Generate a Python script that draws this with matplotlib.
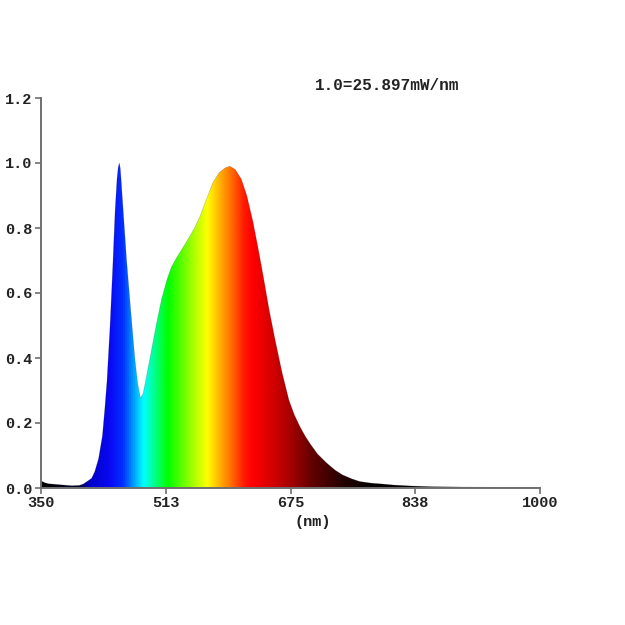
import numpy as np
import matplotlib
matplotlib.use("Agg")
import matplotlib.pyplot as plt
from matplotlib.colors import LinearSegmentedColormap

# ---------------------------------------------------------
# spectrum data (relative, 1.0 = 25.897 mW/nm)
# ---------------------------------------------------------
wavelength = [350, 355, 360, 370, 380, 390, 400, 405, 410, 416, 420, 425,
              430, 433, 436, 440, 443.5, 446.5, 449, 450.5, 452, 453.2, 454,
              457, 461.5, 466.8, 472.4, 476, 479.5, 483, 488, 494, 500, 507,
              514, 520, 527, 535, 544, 550, 557, 565, 574, 582, 590, 596,
              603, 611, 618, 626, 633, 640, 647, 655, 664, 673, 680, 687,
              694, 700, 710, 722, 733, 743, 755, 765, 780, 791, 810, 834,
              860, 900, 950, 1000]
intensity = [0.022, 0.016, 0.013, 0.011, 0.009, 0.007, 0.008, 0.012, 0.02,
             0.03, 0.05, 0.09, 0.16, 0.24, 0.33, 0.50, 0.68, 0.85, 0.95,
             0.985, 1.0, 0.985, 0.96, 0.855, 0.70, 0.548, 0.394, 0.32,
             0.277, 0.29, 0.35, 0.425, 0.50, 0.58, 0.64, 0.68, 0.71, 0.74,
             0.775, 0.80, 0.835, 0.885, 0.94, 0.97, 0.985, 0.99, 0.98, 0.95,
             0.90, 0.82, 0.735, 0.645, 0.55, 0.455, 0.355, 0.27, 0.225,
             0.19, 0.16, 0.138, 0.105, 0.077, 0.055, 0.04, 0.028, 0.02,
             0.015, 0.013, 0.009, 0.006, 0.004, 0.003, 0.002, 0.002]

xticks = [350, 512.5, 675, 837.5, 1000]
xticklabels = ["350", "513", "675", "838", "1000"]
yticks = [0.0, 0.2, 0.4, 0.6, 0.8, 1.0, 1.2]
yticklabels = ["0.0", "0.2", "0.4", "0.6", "0.8", "1.0", "1.2"]

# wavelength -> colour for the fill
color_nodes = [
    (350, (0, 0, 0)), (398, (0, 0, 40)), (412, (0, 0, 200)),
    (440, (10, 10, 245)), (456, (0, 50, 255)), (470, (0, 160, 255)),
    (483, (0, 255, 255)), (497, (0, 255, 140)), (515, (0, 255, 0)),
    (540, (130, 255, 0)), (566, (255, 255, 0)), (580, (255, 190, 0)),
    (595, (255, 120, 0)), (615, (255, 25, 0)), (625, (255, 0, 0)),
    (650, (215, 0, 0)), (680, (155, 0, 0)), (705, (95, 0, 0)),
    (740, (40, 0, 0)), (780, (5, 0, 0)), (1000, (0, 0, 0)),
]
cmap = LinearSegmentedColormap.from_list(
    "spec", [((w - 350) / 650.0, tuple(c / 255.0 for c in rgb)) for w, rgb in color_nodes])

FONT = "Liberation Mono"
AX_GRAY = "#707070"

fig = plt.figure(figsize=(6.25, 6.25), dpi=100)
ax = fig.add_axes([0.0656, 0.2192, 0.7984, 0.624])

# gradient clipped to the spectrum shape
grad = np.linspace(0, 1, 1300).reshape(1, -1)
img = ax.imshow(grad, extent=[350, 1000, 0, 1.2], aspect="auto",
                cmap=cmap, origin="lower", zorder=1)
poly = ax.fill_between(wavelength, intensity, 0, facecolor="none",
                       edgecolor="none", zorder=2)
clip = poly.get_paths()[0]
img.set_clip_path(clip, transform=ax.transData)
ax.plot(wavelength, intensity, color="black", lw=0.4, alpha=0.25, zorder=3)

ax.set_xlim(350, 1000)
ax.set_ylim(0, 1.2)

ax.set_xticks(xticks)
ax.set_xticklabels(xticklabels)
ax.set_yticks(yticks)
ax.set_yticklabels(yticklabels)

for s in ["top", "right"]:
    ax.spines[s].set_visible(False)
for s in ["left", "bottom"]:
    ax.spines[s].set_color(AX_GRAY)
    ax.spines[s].set_linewidth(1.4)
    ax.spines[s].set_zorder(4)

ax.tick_params(axis="both", direction="out", length=4, width=1.2,
               color=AX_GRAY, labelsize=11, pad=2)
for lab in ax.get_xticklabels() + ax.get_yticklabels():
    lab.set_fontfamily(FONT)
    lab.set_fontweight("bold")
    lab.set_color("#222222")

ax.text(0.545, -0.088, "(nm)", transform=ax.transAxes, ha="center",
        va="center", fontfamily=FONT, fontweight="bold", fontsize=11,
        color="#222222")
ax.text(0.693, 1.031, "1.0=25.897mW/nm", transform=ax.transAxes,
        ha="center", va="center", fontfamily=FONT, fontweight="bold",
        fontsize=11.5, color="#222222")

fig.savefig("out.png", dpi=100, facecolor="white")
